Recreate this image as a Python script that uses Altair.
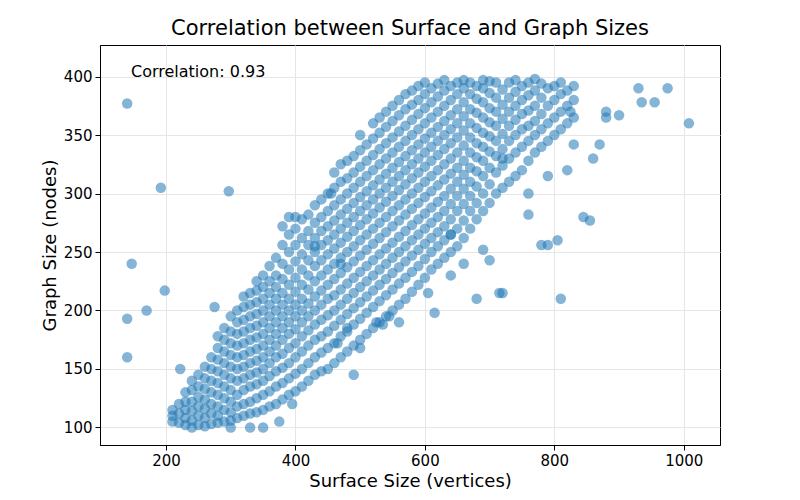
import altair as alt
import pandas as pd

# Dense band: surface size columns and the graph sizes seen in each column
band_x = [210, 220, 230, 240, 250, 260, 270, 280, 290, 300, 310, 320, 330, 340, 350, 360,
          370, 380, 390, 400, 410, 420, 430, 440, 450, 460, 470, 480, 490, 500, 510, 520,
          530, 540, 550, 560, 570, 580, 590, 600, 610, 620, 630, 640, 650, 660, 670, 680,
          690, 700, 710, 720, 730, 740, 750, 760, 770, 780, 790, 800, 810, 820, 830]
band_y = [
    [105, 110, 115],
    [104, 112, 120],
    [102, 108, 115, 122, 130],
    [100, 106, 114, 122, 132, 140],
    [102, 110, 118, 126, 135, 145],
    [101, 108, 116, 124, 133, 142, 152],
    [103, 112, 120, 130, 140, 150, 160],
    [104, 110, 118, 128, 138, 148, 158, 168, 178],
    [105, 115, 125, 135, 145, 155, 165, 175, 185],
    [106, 113, 122, 132, 142, 152, 162, 172, 182, 195],
    [108, 118, 128, 140, 150, 160, 170, 180, 190, 200],
    [110, 120, 132, 142, 152, 162, 172, 182, 192, 203, 212],
    [112, 122, 135, 145, 155, 165, 175, 185, 195, 205, 215],
    [113, 125, 137, 147, 157, 167, 177, 187, 197, 207, 217, 225],
    [115, 128, 140, 150, 160, 170, 180, 190, 200, 210, 220, 230],
    [118, 131, 144, 155, 165, 175, 185, 195, 205, 215, 225, 238],
    [120, 135, 148, 160, 170, 180, 190, 200, 210, 220, 230, 245],
    [124, 138, 151, 163, 175, 185, 195, 205, 215, 227, 240, 256, 272],
    [128, 142, 155, 168, 180, 190, 200, 210, 222, 235, 250, 265, 280],
    [131, 146, 160, 172, 184, 195, 205, 216, 228, 242, 256, 270, 280],
    [135, 150, 165, 178, 190, 200, 210, 222, 235, 248, 262, 278],
    [140, 155, 170, 183, 195, 206, 218, 230, 243, 256, 268, 282],
    [145, 160, 175, 188, 200, 212, 225, 238, 250, 262, 275, 290],
    [148, 164, 178, 192, 205, 217, 230, 243, 256, 268, 280, 295],
    [150, 168, 182, 196, 210, 222, 235, 248, 260, 272, 285, 300],
    [155, 172, 187, 200, 213, 227, 240, 253, 265, 277, 290, 305, 318],
    [160, 178, 192, 205, 218, 232, 245, 258, 270, 282, 295, 310, 325],
    [165, 182, 197, 210, 223, 237, 250, 263, 275, 287, 300, 313, 328],
    [170, 188, 202, 215, 228, 242, 255, 268, 280, 292, 305, 318, 332],
    [175, 193, 207, 220, 233, 247, 260, 273, 285, 297, 310, 323, 337, 350],
    [180, 198, 212, 225, 238, 252, 265, 278, 290, 302, 315, 328, 342],
    [185, 203, 217, 230, 243, 257, 270, 283, 295, 307, 320, 333, 347, 360],
    [190, 208, 222, 235, 248, 262, 275, 288, 300, 312, 325, 338, 352, 365],
    [195, 213, 227, 240, 253, 267, 280, 293, 305, 317, 330, 343, 357, 370],
    [200, 218, 232, 245, 258, 272, 285, 298, 310, 322, 335, 348, 362, 375],
    [205, 223, 237, 250, 263, 277, 290, 303, 315, 327, 340, 353, 367, 380],
    [210, 228, 242, 255, 268, 282, 295, 308, 320, 332, 345, 358, 372, 385],
    [216, 233, 247, 260, 273, 287, 300, 313, 325, 337, 350, 363, 376, 388],
    [222, 238, 252, 265, 278, 292, 305, 318, 330, 342, 355, 368, 380, 392],
    [228, 244, 257, 270, 283, 297, 310, 323, 335, 347, 360, 373, 385, 395],
    [235, 250, 262, 275, 288, 302, 315, 328, 340, 352, 365, 378, 390],
    [240, 255, 267, 280, 293, 307, 320, 333, 345, 357, 370, 383, 394],
    [245, 260, 272, 285, 298, 312, 325, 338, 350, 362, 375, 388, 397],
    [250, 265, 278, 291, 304, 317, 330, 343, 355, 367, 380, 392],
    [255, 270, 285, 298, 310, 322, 335, 348, 360, 372, 385, 395],
    [262, 277, 291, 304, 316, 328, 341, 354, 366, 378, 390, 397],
    [270, 285, 298, 310, 322, 335, 348, 360, 372, 385, 395],
    [278, 292, 306, 319, 331, 343, 356, 369, 381, 392],
    [285, 300, 315, 328, 340, 352, 365, 378, 390, 397],
    [292, 308, 322, 336, 349, 361, 373, 386, 396],
    [300, 318, 332, 345, 358, 370, 382, 395],
    [305, 324, 338, 351, 364, 376, 389],
    [310, 330, 345, 358, 370, 382, 395],
    [315, 335, 350, 363, 375, 387, 397],
    [320, 340, 355, 368, 380, 392],
    [328, 345, 358, 371, 384, 395],
    [335, 350, 362, 375, 388, 398],
    [340, 355, 368, 382, 394],
    [345, 360, 375, 390],
    [350, 365, 380, 392],
    [355, 370, 385, 395],
    [360, 375, 388],
    [365, 380, 392],
]

# Scattered points off the band
outlier_x = [140, 140, 140, 147, 170, 192, 198, 297, 222, 275, 845, 855, 820, 930, 935, 955,
             975, 1008, 880, 860, 870, 780, 790, 805, 760, 720, 715, 700, 690, 660, 640, 615,
             605, 560, 545, 535, 525, 490, 500, 470, 480, 465, 640, 680, 810, 720, 760, 790,
             830, 900, 825, 880, 455, 430, 395, 375, 350, 330, 300]
outlier_y = [377, 193, 160, 240, 200, 305, 217, 302, 150, 203, 280, 277, 320, 390, 378, 378,
             390, 360, 365, 330, 342, 256, 256, 260, 282, 215, 215, 243, 252, 240, 230, 198,
             215, 190, 195, 188, 190, 145, 168, 240, 185, 172, 265, 210, 210, 330, 300, 315,
             342, 367, 370, 370, 300, 255, 120, 105, 100, 100, 100]

xs, ys = [], []
for x, col in zip(band_x, band_y):
    for y in col:
        xs.append(x)
        ys.append(y)
xs += outlier_x
ys += outlier_y
df = pd.DataFrame({"surface": xs, "graph": ys})

points = alt.Chart(df).mark_circle(size=110, opacity=0.55, color="#1f77b4").encode(
    x=alt.X("surface:Q", title="Surface Size (vertices)",
            scale=alt.Scale(domain=[98, 1056], nice=False),
            axis=alt.Axis(values=[200, 400, 600, 800, 1000], format="d")),
    y=alt.Y("graph:Q", title="Graph Size (nodes)",
            scale=alt.Scale(domain=[85, 427], nice=False),
            axis=alt.Axis(values=[100, 150, 200, 250, 300, 350, 400], format="d")),
)

label = alt.Chart(pd.DataFrame({"t": ["Correlation: 0.93"]})).mark_text(
    align="left", baseline="middle", fontSize=16, font="DejaVu Sans", color="black"
).encode(x=alt.value(31), y=alt.value(27), text="t:N")

chart = (points + label).properties(
    width=620, height=400,
    title=alt.Title("Correlation between Surface and Graph Sizes", fontSize=21,
                    font="DejaVu Sans", fontWeight="normal", offset=6),
    autosize=alt.AutoSizeParams(type="none"),
    padding={"left": 92, "top": 37, "right": 72, "bottom": 47},
).configure_axis(
    labelFont="DejaVu Sans", titleFont="DejaVu Sans", labelFontSize=15, titleFontSize=18,
    titleFontWeight="normal", labelColor="black", titleColor="black",
    gridColor="#e6e6e6", domainColor="black", tickColor="black", labelPadding=3,
).configure_view(stroke="black", strokeWidth=1)

chart.save("out.html", embed_options={"renderer": "svg", "actions": False})
